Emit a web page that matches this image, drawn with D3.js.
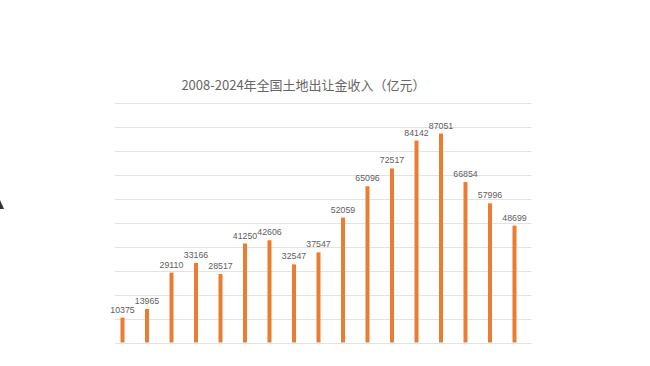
<!DOCTYPE html>
<html><head><meta charset="utf-8">
<script src="https://cdn.jsdelivr.net/npm/d3@7"></script>
<style>body{margin:0;background:#fff}svg{display:block}</style>
</head><body>
<script>
const years = ["2008","2009","2010","2011","2012","2013","2014","2015","2016","2017","2018","2019","2020","2021","2022","2023","2024"];
const values = [10375,13965,29110,33166,28517,41250,42606,32547,37547,52059,65096,72517,84142,87051,66854,57996,48699];
const yTicks = [0,10000,20000,30000,40000,50000,60000,70000,80000,90000,100000];
const title = "2008-2024年全国土地出让金收入（亿元）";

const W = 650, H = 366;
const svg = d3.select("body").append("svg").attr("width", W).attr("height", H);

const x = d3.scaleBand().domain(years).range([115, 531.5]).padding(0);
const y = d3.scaleLinear().domain([0, 100000]).range([342.5, 102.5]);
const barW = 4;
const barOff = x.step() * 0.306;

svg.append("g").selectAll("line").data(yTicks).join("line")
  .attr("x1", 115).attr("x2", 531.5)
  .attr("y1", d => Math.round(y(d)) + 0.5).attr("y2", d => Math.round(y(d)) + 0.5)
  .attr("stroke", "#e3e3e3").attr("stroke-width", 1);

svg.append("g").selectAll("rect").data(values).join("rect")
  .attr("x", (d, i) => x(years[i]) + barOff - barW / 2)
  .attr("y", d => y(d))
  .attr("width", barW)
  .attr("height", d => y(0) - y(d))
  .attr("fill", "#E97D33");

svg.append("g").selectAll("text").data(values).join("text")
  .attr("x", (d, i) => x(years[i]) + barOff)
  .attr("y", d => y(d) - 5)
  .attr("text-anchor", "middle")
  .attr("font-family", "Liberation Sans, Arial, sans-serif")
  .attr("font-size", "8.8px")
  .attr("fill", "#606060")
  .text(d => d);

svg.append("text")
  .attr("x", 303.5).attr("y", 90)
  .attr("text-anchor", "middle")
  .attr("font-family", "'Noto Sans CJK SC', sans-serif")
  .attr("font-size", "13px")
  .attr("fill", "#666")
  .text(title);

svg.append("path").attr("d", "M0,200L0,209L4,209Z").attr("fill", "#333");
</script>
</body></html>
